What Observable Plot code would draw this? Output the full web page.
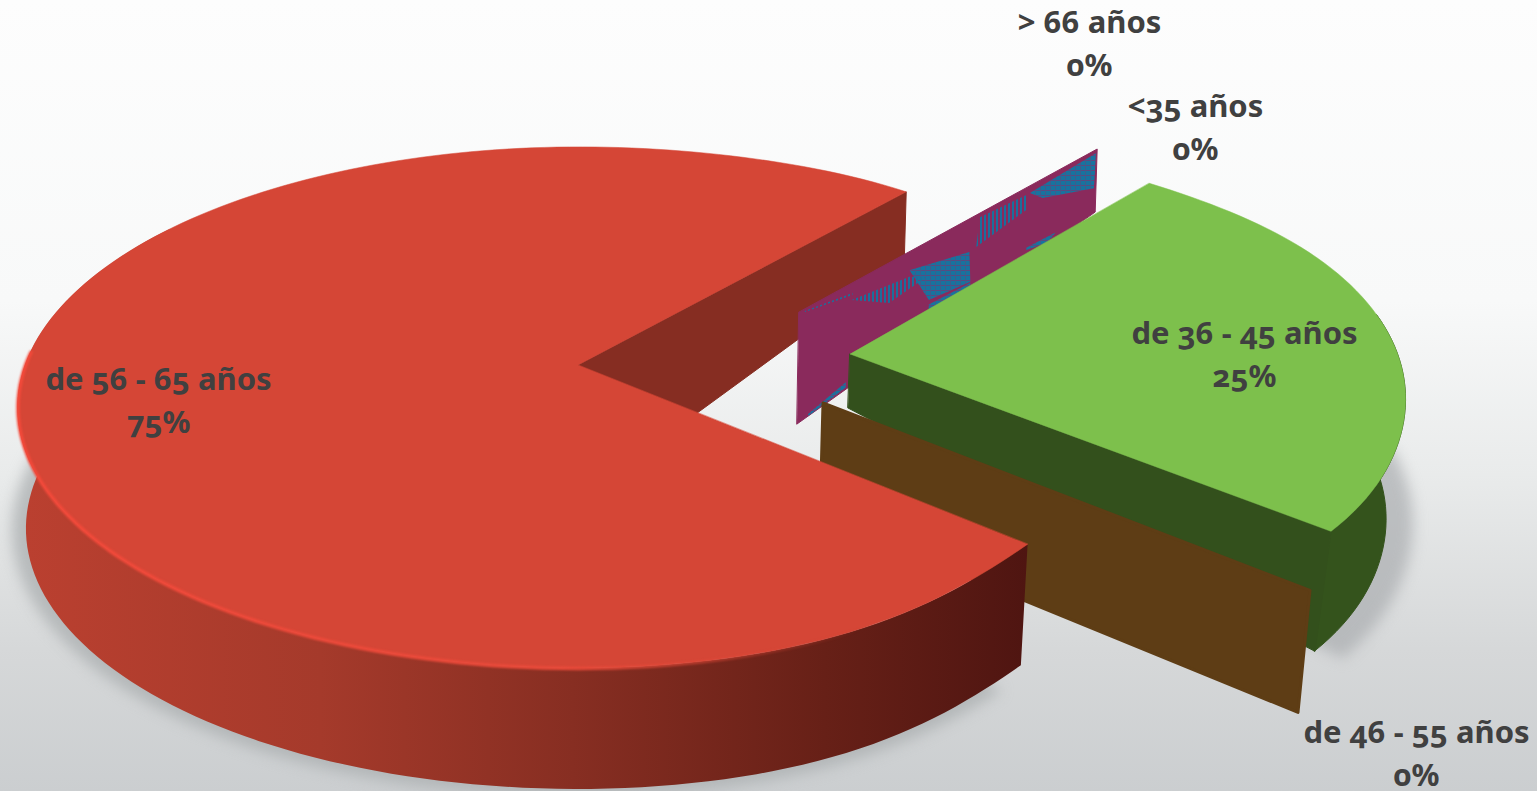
<!DOCTYPE html>
<html lang="es">
<head>
<meta charset="utf-8">
<title>Distribución por edad</title>
<script src="https://cdn.jsdelivr.net/npm/d3@7"></script>
<script src="https://cdn.jsdelivr.net/npm/@observablehq/plot@0.6"></script>
<style>
html,body{margin:0;padding:0;overflow:hidden;background:#e6e8e9}
svg{display:block}
text{font-variant-numeric:oldstyle-nums;font-feature-settings:"onum" 1}
</style>
</head>
<body>
<div id="chart"></div>
<script>
// ---- data ----
const categorias = ["<35 años", "de 36 - 45 años", "de 46 - 55 años", "de 56 - 65 años", "> 66 años"];
const porcentajes = [0, 25, 0, 75, 0];

// ---- layout of each exploded slice (same order as the data) ----
const W = 1537, H = 791;
const apices = [[799,312],[850,354],[823,403],[578,365],[799,312]];
const radios = [0.937,0.99,1.026,1.0,0.937];
const giros  = [0,-1.2,0,1,0];
const etiquetas = [[1195,124],[1244,351],[1416,750],[158,397],[1089,40]];

// ---- perspective of the disc ----
const A = 553, B = 253.6, P = 0.163, START = -50;
const rad = d => d*Math.PI/180;
function project(apex, theta, r) {
  const u = r*Math.cos(rad(theta)), v = r*Math.sin(rad(theta)), w = 1 - P*v;
  return [apex[0] + A*u/w, apex[1] + B*v/w];
}
// cumulative angles from the values
let acc = START;
const cortes = porcentajes.map(p => { const a0 = acc; acc += p/100*360; return [a0, acc]; });

function rimPoint(i, d, flareS=0, flareE=0) {
  const [a0,a1] = cortes[i];
  const f = 1 + flareS*Math.exp(-(((d-a0)/20)**2)) + flareE*Math.exp(-(((d-a1)/20)**2));
  return project(apices[i], d+giros[i], radios[i]*f);
}
const sweep = (a,b,step=1.5) => { const n = Math.round((b-a)/step), o = []; for (let k=0;k<=n;k++) o.push(a+(b-a)*k/n); return o; };

const band = (l1,l2,opts) => Plot.area(l1.map((p,i)=>({x1:p[0],y1:p[1],x2:l2[i][0],y2:l2[i][1]})),
  {x1:"x1",y1:"y1",x2:"x2",y2:"y2",strokeLinejoin:"round",...opts});

// red slice (index 3), green slice (index 1)
const R = 3, G = 1;
const redFlare = [-0.034, 0.018], greenFlare = [-0.02, 0.012];
const redRim = d => rimPoint(R,d,...redFlare);
const greenRim = d => rimPoint(G,d,...greenFlare);
const redBottom = p => [apices[R][0]+(p[0]-apices[R][0])*0.985, p[1]+121];
const greenBottom = p => [apices[G][0]+(p[0]-apices[G][0])*0.965, p[1]+120];

const redAng = sweep(cortes[R][0], cortes[R][1]);
const redSideAng = sweep(cortes[R][0], 215);
const greenAng = sweep(cortes[G][0], cortes[G][1]);
const greenSideAng = sweep(-8, cortes[G][1]);

// inner walls: top edge apex -> tip, bottom edge with own depth
function wall(apex, tip, d0, d1) {
  return {top:[apex,tip], bottom:[[apex[0]+d0[0],apex[1]+d0[1]],[tip[0]+d1[0],tip[1]+d1[1]]]};
}
const redTip = redRim(cortes[R][1]);
const greenTip = greenRim(cortes[G][1]);
const redWall = wall(apices[R], redTip, [0,135], [-2,70]);
const greenWall = wall(apices[G], greenTip, [-2,54], [-16,120]);
const brownTip = project(apices[2], cortes[2][0]+giros[2], radios[2]);
const brownWall = wall(apices[2], brownTip, [-3,114], [-12,122]);
const purpleTip = project(apices[4], cortes[4][1]-360+giros[4], radios[4]);
const purpleWall = wall(apices[4], purpleTip, [-2,112], [-2,63]);

// patches where the two coincident zero walls show through each other (t along, s down)
const wallAt = (t,s) => {
  const a = purpleWall.top[0], b = purpleWall.top[1], c = purpleWall.bottom[0], d = purpleWall.bottom[1];
  const tx = a[0]+(b[0]-a[0])*t, ty = a[1]+(b[1]-a[1])*t, bx = c[0]+(d[0]-c[0])*t, by = c[1]+(d[1]-c[1])*t;
  return [tx+(bx-tx)*s, ty+(by-ty)*s];
};
const parches = [
  {q:[[.775,.10],[.997,.055],[.993,.60],[.819,.27]], f:"url(#hatchS)"},
  {q:[[.607,.05],[.765,.10],[.765,.30],[.597,.39]], f:"url(#hatchV)"},
  {q:[[.372,.20],[.574,.40],[.58,.77],[.44,.66]], f:"url(#hatchS)"},
  {q:[[.178,.165],[.372,.27],[.43,.385],[.305,.42]], f:"url(#hatchV)"},
  {q:[[.02,.02],[.18,.10],[.18,.12],[.02,.03]], f:"url(#hatchV)"},
  {q:[[.44,.71],[.58,.78],[.58,.86],[.44,.77]], f:"url(#hatchS)"},
  {q:[[.768,.82],[.866,.885],[.84,.95],[.768,.85]], f:"url(#hatchS)"},
  {q:[[.037,.98],[.164,.93],[.164,.98],[.037,1]], f:"url(#hatchS)"}
];

const filas = categorias.map((c,i)=>({texto:`${c}\n${porcentajes[i]}%`, x:etiquetas[i][0], y:etiquetas[i][1]}));

const grow = (p,c,k) => [c[0]+(p[0]-c[0])*k, c[1]+(p[1]-c[1])*k];
const redShadow = sweep(45,215).map(d => grow(redBottom(redRim(d)), [578,480], 1.025));
const redShadowIn = redShadow.map(()=>[578,480]);
const greenShadow = sweep(-5,39).map(d => grow(greenBottom(greenRim(d)), [850,420], 1.05));
const greenShadowIn = greenShadow.map(()=>[850,420]);

const plot = Plot.plot({
  width:W, height:H, margin:0,
  x:{domain:[0,W], range:[0,W], axis:null},
  y:{domain:[0,H], range:[0,H], axis:null},
  style:{background:"linear-gradient(180deg,#fdfdfd 0%,#f8f9f9 38%,#e9ebeb 60%,#d6d8d9 82%,#cbced0 100%)", fontFamily:"'Noto Sans', 'Open Sans', sans-serif"},
  marks:[
    // soft floor shadows
    band(redShadow, redShadowIn, {fill:"#a9adaf", fillOpacity:0.75, imageFilter:"blur(7px)"}),
    band(greenShadow, greenShadowIn, {fill:"#a9adaf", fillOpacity:0.7, imageFilter:"blur(7px)"}),
    // red back wall
    band(redWall.top, redWall.bottom, {fill:"#862d22", stroke:"#862d22"}),
    // zero-share walls, coincident
    band(purpleWall.top, purpleWall.bottom, {fill:"#8a2a5c", stroke:"#8a2a5c"}),
    ...parches.map(p => band([wallAt(...p.q[0]),wallAt(...p.q[1])],[wallAt(...p.q[3]),wallAt(...p.q[2])],{fill:p.f})),
    // green slice
    band(greenSideAng.map(greenRim), greenSideAng.map(d=>greenBottom(greenRim(d))), {fill:"#34531c", stroke:"#34531c"}),
    band(greenWall.top, greenWall.bottom, {fill:"#33501c", stroke:"#33501c"}),
    band(greenAng.map(greenRim), greenAng.map(()=>apices[G]), {fill:"#7dc04c", stroke:"#7dc04c", strokeWidth:0.5}),
    // brown wall
    band(brownWall.top, brownWall.bottom, {fill:"#5e3d15", stroke:"#5e3d15", strokeWidth:3}),
    // red slice
    band(redSideAng.map(redRim), redSideAng.map(d=>redBottom(redRim(d))), {fill:"url(#redSide)"}),
    band(redAng.map(redRim), redAng.map(()=>apices[R]), {fill:"#d54636", stroke:"#d54636", strokeWidth:0.5}),
    Plot.line(sweep(50,182).map(redRim), {x:d=>d[0], y:d=>d[1], stroke:"url(#redRim)", strokeWidth:3.5, imageFilter:"blur(0.8px)"}),
    // labels
    Plot.text(filas, {x:"x", y:"y", text:"texto", fontSize:31, fontWeight:700, fill:"#404040", lineHeight:1.4, lineAnchor:"middle", textAnchor:"middle"})
  ]
});
const defs = document.createElementNS("http://www.w3.org/2000/svg","defs");
defs.innerHTML = `
<linearGradient id="redSide" gradientUnits="userSpaceOnUse" x1="17" y1="0" x2="1027" y2="0">
  <stop offset="0" stop-color="#bb4030"/><stop offset="0.3" stop-color="#a53a2b"/>
  <stop offset="0.55" stop-color="#872e22"/><stop offset="0.8" stop-color="#672017"/><stop offset="1" stop-color="#4f1511"/>
</linearGradient>
<linearGradient id="redRim" gradientUnits="userSpaceOnUse" x1="17" y1="0" x2="1010" y2="0">
  <stop offset="0" stop-color="#f4493a"/><stop offset="0.55" stop-color="#ea4a3a"/><stop offset="0.85" stop-color="#e04838" stop-opacity="0"/><stop offset="1" stop-color="#d54636" stop-opacity="0"/>
</linearGradient>
<pattern id="hatchV" patternUnits="userSpaceOnUse" width="4" height="6">
  <rect x="0" y="0" width="2" height="6" fill="#1a6f9c"/>
</pattern>
<pattern id="hatchS" patternUnits="userSpaceOnUse" width="5" height="5">
  <rect width="5" height="5" fill="#17739f"/><rect y="0" width="5" height="1" fill="#5a4a80"/><rect x="0" width="1" height="5" fill="#3f5c8b"/>
</pattern>`;
plot.insertBefore(defs, plot.firstChild);
document.getElementById("chart").appendChild(plot);
</script>
</body>
</html>
